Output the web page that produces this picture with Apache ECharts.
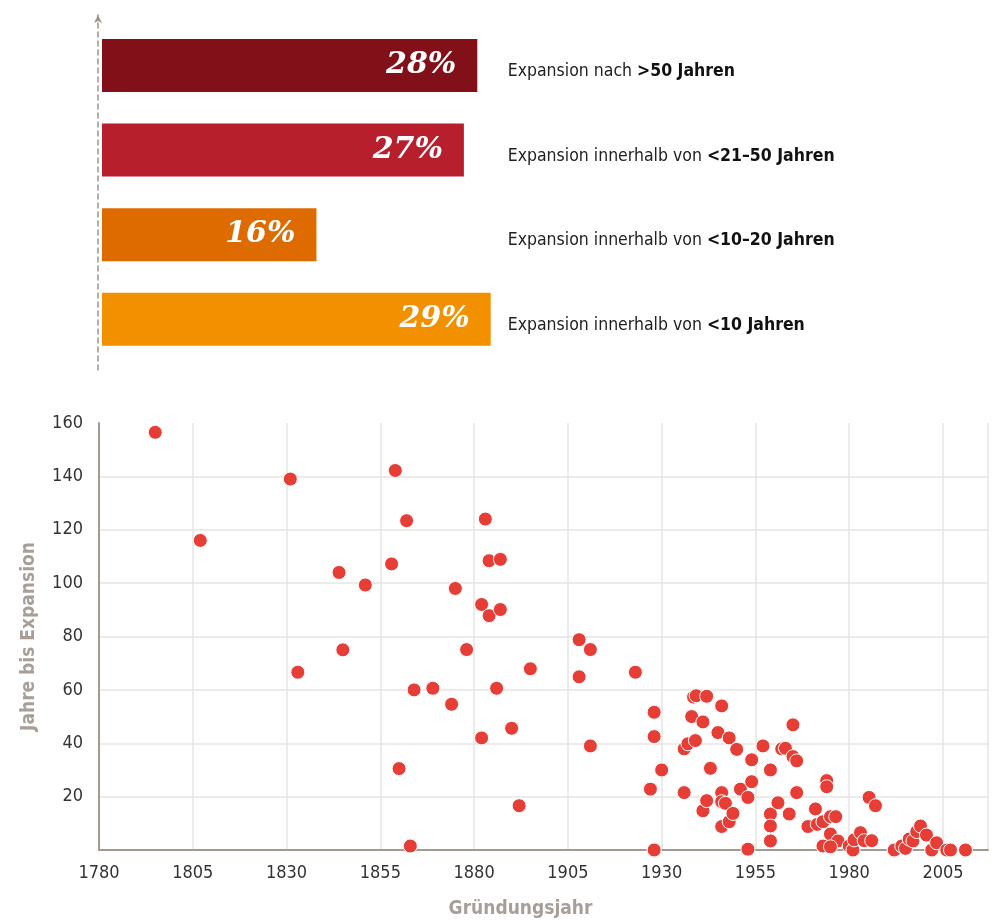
<!DOCTYPE html>
<html>
<head>
<meta charset="utf-8">
<script src="https://cdn.jsdelivr.net/npm/echarts@6/dist/echarts.min.js"></script>
<style>
  html, body { margin: 0; padding: 0; background: #fff; }
  #chart { width: 995px; height: 921px; }
</style>
</head>
<body>
<div id="chart"></div>
<script>
// --- share of companies by time until expansion (top bars)
const bandPrefix = ['Expansion nach', 'Expansion innerhalb von', 'Expansion innerhalb von', 'Expansion innerhalb von'];
const bandRange  = ['>50 Jahren', '<21–50 Jahren', '<10–20 Jahren', '<10 Jahren'];
const bandShare  = [28, 27, 16, 29];
const bandColors = ['#821019', '#B71F2D', '#DE6B00', '#F29000'];

// --- founding year vs. years until expansion (scatter)
const foundingYear = [
    1795, 1807, 1831, 1833, 1844, 1845, 1851, 1858, 1859, 1860,
    1862, 1863, 1864, 1869, 1874, 1875, 1878, 1882, 1882, 1883,
    1884, 1884, 1886, 1887, 1887, 1890, 1892, 1895, 1908, 1908,
    1911, 1911, 1923, 1927, 1928, 1928, 1928, 1930, 1936, 1936,
    1937, 1938, 1938.5, 1939.2, 1939, 1941, 1941, 1942, 1942, 1943,
    1945, 1946, 1946, 1946, 1947, 1946, 1948, 1948, 1949, 1950,
    1951, 1953, 1953, 1954, 1954, 1957, 1959, 1959, 1959, 1959,
    1961, 1962, 1963, 1964, 1965, 1965, 1966, 1966, 1969, 1971,
    1971.5, 1973, 1974, 1974, 1975, 1976.4, 1975, 1977, 1973, 1975,
    1980, 1981, 1981.3, 1983, 1984, 1986, 1985.3, 1987, 1992, 1994,
    1995, 1996, 1997, 1998, 1999, 2000.6, 2002, 2003.3, 2006, 2007,
    2011
];
const yearsToExpansion = [
    156.5, 116, 139, 66.6, 104, 75, 99.3, 107.2, 142.2, 30.5,
    123.4, 1.5, 60, 60.6, 54.6, 98, 75.1, 92, 42, 124,
    108.4, 87.8, 60.6, 108.9, 90.1, 45.6, 16.6, 67.9, 78.8, 64.9,
    75.1, 39, 66.6, 22.8, 51.6, 42.5, 0, 30, 21.5, 37.9,
    39.8, 50, 57.3, 57.8, 41, 48, 14.7, 57.6, 18.5, 30.6,
    44, 54, 21.5, 18.1, 17.5, 8.8, 42, 10.6, 13.7, 37.7,
    22.8, 19.7, 0.3, 33.8, 25.6, 39, 30, 13.5, 9, 3.4,
    17.7, 37.9, 38.1, 13.5, 46.9, 35, 33.4, 21.5, 8.8, 15.4,
    9.6, 10.6, 26, 23.7, 12.5, 12.5, 6, 3.4, 1.5, 1.2,
    1.5, 0, 3.8, 6.5, 3.5, 3.5, 19.7, 16.6, 0, 1.5,
    0.6, 4.1, 3.4, 6.9, 9, 5.6, 0, 2.7, 0, 0,
    0
];

const yTicks = [20, 40, 60, 80, 100, 120, 140, 160];

const NARROW = '"Liberation Sans Narrow", "DejaVu Sans Condensed", "Roboto", sans-serif';
const AXIS_GREY = '#A39A93';
const NAME_GREY = '#A89E97';

const chart = echarts.init(document.getElementById('chart'), null, { renderer: 'canvas' });

chart.setOption({
    animation: false,
    grid: [
        { left: 102, top: 23.2, width: 388.7, height: 338.3, outerBoundsMode: 'none' },  // bars
        { left: 99, top: 423, right: 7, bottom: 71, outerBoundsMode: 'none' },           // scatter
        { left: 98, top: 15, width: 1, height: 355, outerBoundsMode: 'none' },           // dashed arrow axis
    ],
    xAxis: [
        { gridIndex: 0, type: 'value', min: 0, max: 29, show: false },
        {
            gridIndex: 1, type: 'value', min: 1780, max: 2017, interval: 25,
            name: 'Gründungsjahr', nameLocation: 'middle', nameGap: 50,
            nameTextStyle: {
                fontFamily: NARROW, fontSize: 19, fontWeight: 'bold', color: NAME_GREY,
                padding: [0, 46, 0, 0],
            },
            axisLine: { show: true, lineStyle: { color: AXIS_GREY, width: 2 } },
            axisTick: { show: false },
            axisLabel: {
                margin: 14, fontFamily: NARROW, fontSize: 18, color: '#333',
                showMaxLabel: false,
                formatter: (v) => String(v),
            },
            splitLine: { show: true, lineStyle: { color: '#E6E4E2', width: 1.5 } },
        },
        { gridIndex: 2, type: 'value', show: false },
    ],
    yAxis: [
        {
            gridIndex: 0, type: 'category', inverse: true, position: 'right',
            data: bandPrefix,
            axisLine: { show: false }, axisTick: { show: false },
            axisLabel: {
                margin: 17, align: 'left', padding: [12, 0, 0, 0],
                formatter: (v, i) => `{a|${v} }{b|${bandRange[i]}}`,
                rich: {
                    a: { fontFamily: NARROW, fontSize: 17.5, color: '#222' },
                    b: { fontFamily: NARROW, fontSize: 17.5, fontWeight: 'bold', color: '#111' },
                },
            },
        },
        {
            gridIndex: 1, type: 'value', min: 0, max: 160, interval: 20,
            name: 'Jahre bis Expansion', nameLocation: 'middle', nameGap: 60, nameRotate: 90,
            nameTextStyle: { fontFamily: NARROW, fontSize: 19, fontWeight: 'bold', color: NAME_GREY },
            axisLine: { show: true, lineStyle: { color: AXIS_GREY, width: 2 } },
            axisTick: { show: false },
            axisLabel: {
                margin: 16, fontFamily: NARROW, fontSize: 18, color: '#333',
                formatter: (v) => (yTicks.includes(v) ? String(v) : ''),
            },
            splitLine: { show: true, showMaxLine: false, lineStyle: { color: '#E6E4E2', width: 1.5 } },
        },
        {
            gridIndex: 2, type: 'value', min: 0, max: 1,
            axisLine: {
                show: true, symbol: ['none', 'arrow'], symbolSize: [6, 8],
                lineStyle: { color: '#9C948D', width: 1.5, type: [5, 4] },
            },
            axisTick: { show: false }, axisLabel: { show: false }, splitLine: { show: false },
        },
    ],
    series: [
        {
            type: 'bar', xAxisIndex: 0, yAxisIndex: 0, barWidth: 53,
            data: bandShare.map((v, i) => ({ value: v, itemStyle: { color: bandColors[i] } })),
            label: {
                show: true, position: 'insideRight', distance: 21,
                formatter: '{c}%',
                fontFamily: '"DejaVu Serif", serif', fontStyle: 'italic', fontWeight: 'bold',
                fontSize: 30, color: '#fff',
            },
        },
        {
            type: 'scatter', xAxisIndex: 1, yAxisIndex: 1, symbolSize: 14,
            clip: false,
            data: foundingYear.map((y, i) => [y, yearsToExpansion[i]]),
            itemStyle: { color: '#E63E36', opacity: 1, borderColor: '#fff', borderWidth: 1 },
        },
    ],
});
</script>
</body>
</html>
